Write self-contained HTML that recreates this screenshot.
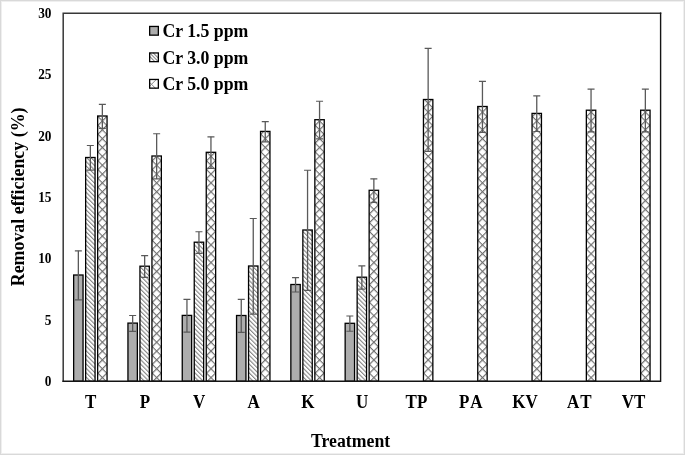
<!DOCTYPE html>
<html><head><meta charset="utf-8"><style>
html,body{margin:0;padding:0;background:#fff;}
body{width:685px;height:455px;overflow:hidden;}
svg{display:block;will-change:transform;}
text{font-family:"Liberation Serif",serif;font-weight:bold;fill:#000;}
</style></head><body>
<svg width="685" height="455" viewBox="0 0 685 455">
<defs>
<pattern id="h0" patternUnits="userSpaceOnUse" width="3.111" height="3.111" patternTransform="translate(90.35 382.15) rotate(-45)"><rect width="3.111" height="3.111" fill="#fff"/><rect x="0" y="0" width="1.1" height="3.111" fill="#858585"/></pattern><pattern id="h1" patternUnits="userSpaceOnUse" width="3.111" height="3.111" patternTransform="translate(144.65 382.15) rotate(-45)"><rect width="3.111" height="3.111" fill="#fff"/><rect x="0" y="0" width="1.1" height="3.111" fill="#858585"/></pattern><pattern id="h2" patternUnits="userSpaceOnUse" width="3.111" height="3.111" patternTransform="translate(198.95 382.15) rotate(-45)"><rect width="3.111" height="3.111" fill="#fff"/><rect x="0" y="0" width="1.1" height="3.111" fill="#858585"/></pattern><pattern id="h3" patternUnits="userSpaceOnUse" width="3.111" height="3.111" patternTransform="translate(253.25 382.15) rotate(-45)"><rect width="3.111" height="3.111" fill="#fff"/><rect x="0" y="0" width="1.1" height="3.111" fill="#858585"/></pattern><pattern id="h4" patternUnits="userSpaceOnUse" width="3.111" height="3.111" patternTransform="translate(307.55 382.15) rotate(-45)"><rect width="3.111" height="3.111" fill="#fff"/><rect x="0" y="0" width="1.1" height="3.111" fill="#858585"/></pattern><pattern id="h5" patternUnits="userSpaceOnUse" width="3.111" height="3.111" patternTransform="translate(361.85 382.15) rotate(-45)"><rect width="3.111" height="3.111" fill="#fff"/><rect x="0" y="0" width="1.1" height="3.111" fill="#858585"/></pattern><pattern id="c0" patternUnits="userSpaceOnUse" width="6.258" height="6.258" patternTransform="translate(102.35 385.65) rotate(45)"><rect width="6.258" height="6.258" fill="#fff"/><path d="M0 0H6.258M0 0V6.258" stroke="#707070" stroke-width="2.4" fill="none"/></pattern><pattern id="c1" patternUnits="userSpaceOnUse" width="6.258" height="6.258" patternTransform="translate(156.65 385.65) rotate(45)"><rect width="6.258" height="6.258" fill="#fff"/><path d="M0 0H6.258M0 0V6.258" stroke="#707070" stroke-width="2.4" fill="none"/></pattern><pattern id="c2" patternUnits="userSpaceOnUse" width="6.258" height="6.258" patternTransform="translate(210.95 385.65) rotate(45)"><rect width="6.258" height="6.258" fill="#fff"/><path d="M0 0H6.258M0 0V6.258" stroke="#707070" stroke-width="2.4" fill="none"/></pattern><pattern id="c3" patternUnits="userSpaceOnUse" width="6.258" height="6.258" patternTransform="translate(265.25 385.65) rotate(45)"><rect width="6.258" height="6.258" fill="#fff"/><path d="M0 0H6.258M0 0V6.258" stroke="#707070" stroke-width="2.4" fill="none"/></pattern><pattern id="c4" patternUnits="userSpaceOnUse" width="6.258" height="6.258" patternTransform="translate(319.55 385.65) rotate(45)"><rect width="6.258" height="6.258" fill="#fff"/><path d="M0 0H6.258M0 0V6.258" stroke="#707070" stroke-width="2.4" fill="none"/></pattern><pattern id="c5" patternUnits="userSpaceOnUse" width="6.258" height="6.258" patternTransform="translate(373.85 385.65) rotate(45)"><rect width="6.258" height="6.258" fill="#fff"/><path d="M0 0H6.258M0 0V6.258" stroke="#707070" stroke-width="2.4" fill="none"/></pattern><pattern id="c6" patternUnits="userSpaceOnUse" width="6.258" height="6.258" patternTransform="translate(428.15 385.65) rotate(45)"><rect width="6.258" height="6.258" fill="#fff"/><path d="M0 0H6.258M0 0V6.258" stroke="#707070" stroke-width="2.4" fill="none"/></pattern><pattern id="c7" patternUnits="userSpaceOnUse" width="6.258" height="6.258" patternTransform="translate(482.45 385.65) rotate(45)"><rect width="6.258" height="6.258" fill="#fff"/><path d="M0 0H6.258M0 0V6.258" stroke="#707070" stroke-width="2.4" fill="none"/></pattern><pattern id="c8" patternUnits="userSpaceOnUse" width="6.258" height="6.258" patternTransform="translate(536.75 385.65) rotate(45)"><rect width="6.258" height="6.258" fill="#fff"/><path d="M0 0H6.258M0 0V6.258" stroke="#707070" stroke-width="2.4" fill="none"/></pattern><pattern id="c9" patternUnits="userSpaceOnUse" width="6.258" height="6.258" patternTransform="translate(591.05 385.65) rotate(45)"><rect width="6.258" height="6.258" fill="#fff"/><path d="M0 0H6.258M0 0V6.258" stroke="#707070" stroke-width="2.4" fill="none"/></pattern><pattern id="c10" patternUnits="userSpaceOnUse" width="6.258" height="6.258" patternTransform="translate(645.35 385.65) rotate(45)"><rect width="6.258" height="6.258" fill="#fff"/><path d="M0 0H6.258M0 0V6.258" stroke="#707070" stroke-width="2.4" fill="none"/></pattern>
<pattern id="hatL" patternUnits="userSpaceOnUse" width="2.6" height="2.6" patternTransform="rotate(-45)">
<rect width="2.6" height="2.6" fill="#fff"/><rect width="1" height="2.6" fill="#777"/></pattern>
<pattern id="crsL" patternUnits="userSpaceOnUse" width="6" height="6" patternTransform="translate(154 0) rotate(45)">
<rect width="6" height="6" fill="#fff"/><rect width="1" height="6" fill="#777"/><rect width="6" height="1" fill="#777"/></pattern>
</defs>
<rect x="0.5" y="0.5" width="684" height="454" fill="none" stroke="#d9d9d9" stroke-width="1"/>
<rect x="1.5" y="1.5" width="682" height="452" fill="none" stroke="#efefef" stroke-width="1"/>
<rect x="73.65" y="275.00" width="9.40" height="106.25" fill="#adadad" stroke="#000" stroke-width="1.3"/><path d="M78.35 250.80V299.80" stroke="#595959" stroke-width="1.3" fill="none"/><path d="M74.85 250.80H81.85M74.85 299.80H81.85" stroke="#595959" stroke-width="1.15" fill="none"/><rect x="127.95" y="323.10" width="9.40" height="58.15" fill="#adadad" stroke="#000" stroke-width="1.3"/><path d="M132.65 315.50V331.30" stroke="#595959" stroke-width="1.3" fill="none"/><path d="M129.15 315.50H136.15M129.15 331.30H136.15" stroke="#595959" stroke-width="1.15" fill="none"/><rect x="182.25" y="315.40" width="9.40" height="65.85" fill="#adadad" stroke="#000" stroke-width="1.3"/><path d="M186.95 299.30V332.10" stroke="#595959" stroke-width="1.3" fill="none"/><path d="M183.45 299.30H190.45M183.45 332.10H190.45" stroke="#595959" stroke-width="1.15" fill="none"/><rect x="236.55" y="315.50" width="9.40" height="65.75" fill="#adadad" stroke="#000" stroke-width="1.3"/><path d="M241.25 299.30V332.30" stroke="#595959" stroke-width="1.3" fill="none"/><path d="M237.75 299.30H244.75M237.75 332.30H244.75" stroke="#595959" stroke-width="1.15" fill="none"/><rect x="290.85" y="284.50" width="9.40" height="96.75" fill="#adadad" stroke="#000" stroke-width="1.3"/><path d="M295.55 277.60V292.00" stroke="#595959" stroke-width="1.3" fill="none"/><path d="M292.05 277.60H299.05M292.05 292.00H299.05" stroke="#595959" stroke-width="1.15" fill="none"/><rect x="345.15" y="323.30" width="9.40" height="57.95" fill="#adadad" stroke="#000" stroke-width="1.3"/><path d="M349.85 316.00V331.20" stroke="#595959" stroke-width="1.3" fill="none"/><path d="M346.35 316.00H353.35M346.35 331.20H353.35" stroke="#595959" stroke-width="1.15" fill="none"/><rect x="85.65" y="157.50" width="9.40" height="223.75" fill="url(#h0)" stroke="#000" stroke-width="1.3"/><path d="M90.35 145.50V170.10" stroke="#595959" stroke-width="1.3" fill="none"/><path d="M86.85 145.50H93.85M86.85 170.10H93.85" stroke="#595959" stroke-width="1.15" fill="none"/><rect x="139.95" y="266.20" width="9.40" height="115.05" fill="url(#h1)" stroke="#000" stroke-width="1.3"/><path d="M144.65 255.60V277.40" stroke="#595959" stroke-width="1.3" fill="none"/><path d="M141.15 255.60H148.15M141.15 277.40H148.15" stroke="#595959" stroke-width="1.15" fill="none"/><rect x="194.25" y="242.20" width="9.40" height="139.05" fill="url(#h2)" stroke="#000" stroke-width="1.3"/><path d="M198.95 231.70V253.30" stroke="#595959" stroke-width="1.3" fill="none"/><path d="M195.45 231.70H202.45M195.45 253.30H202.45" stroke="#595959" stroke-width="1.15" fill="none"/><rect x="248.55" y="266.00" width="9.40" height="115.25" fill="url(#h3)" stroke="#000" stroke-width="1.3"/><path d="M253.25 218.50V314.10" stroke="#595959" stroke-width="1.3" fill="none"/><path d="M249.75 218.50H256.75M249.75 314.10H256.75" stroke="#595959" stroke-width="1.15" fill="none"/><rect x="302.85" y="230.00" width="9.40" height="151.25" fill="url(#h4)" stroke="#000" stroke-width="1.3"/><path d="M307.55 170.20V290.40" stroke="#595959" stroke-width="1.3" fill="none"/><path d="M304.05 170.20H311.05M304.05 290.40H311.05" stroke="#595959" stroke-width="1.15" fill="none"/><rect x="357.15" y="277.20" width="9.40" height="104.05" fill="url(#h5)" stroke="#000" stroke-width="1.3"/><path d="M361.85 265.90V289.10" stroke="#595959" stroke-width="1.3" fill="none"/><path d="M358.35 265.90H365.35M358.35 289.10H365.35" stroke="#595959" stroke-width="1.15" fill="none"/><rect x="97.65" y="116.00" width="9.40" height="265.25" fill="url(#c0)" stroke="#000" stroke-width="1.3"/><path d="M102.35 104.30V128.30" stroke="#595959" stroke-width="1.3" fill="none"/><path d="M98.85 104.30H105.85M98.85 128.30H105.85" stroke="#595959" stroke-width="1.15" fill="none"/><rect x="151.95" y="156.00" width="9.40" height="225.25" fill="url(#c1)" stroke="#000" stroke-width="1.3"/><path d="M156.65 133.70V178.90" stroke="#595959" stroke-width="1.3" fill="none"/><path d="M153.15 133.70H160.15M153.15 178.90H160.15" stroke="#595959" stroke-width="1.15" fill="none"/><rect x="206.25" y="152.30" width="9.40" height="228.95" fill="url(#c2)" stroke="#000" stroke-width="1.3"/><path d="M210.95 136.80V168.40" stroke="#595959" stroke-width="1.3" fill="none"/><path d="M207.45 136.80H214.45M207.45 168.40H214.45" stroke="#595959" stroke-width="1.15" fill="none"/><rect x="260.55" y="131.40" width="9.40" height="249.85" fill="url(#c3)" stroke="#000" stroke-width="1.3"/><path d="M265.25 121.60V141.80" stroke="#595959" stroke-width="1.3" fill="none"/><path d="M261.75 121.60H268.75M261.75 141.80H268.75" stroke="#595959" stroke-width="1.15" fill="none"/><rect x="314.85" y="119.70" width="9.40" height="261.55" fill="url(#c4)" stroke="#000" stroke-width="1.3"/><path d="M319.55 101.20V138.80" stroke="#595959" stroke-width="1.3" fill="none"/><path d="M316.05 101.20H323.05M316.05 138.80H323.05" stroke="#595959" stroke-width="1.15" fill="none"/><rect x="369.15" y="190.30" width="9.40" height="190.95" fill="url(#c5)" stroke="#000" stroke-width="1.3"/><path d="M373.85 178.80V202.40" stroke="#595959" stroke-width="1.3" fill="none"/><path d="M370.35 178.80H377.35M370.35 202.40H377.35" stroke="#595959" stroke-width="1.15" fill="none"/><rect x="423.45" y="99.50" width="9.40" height="281.75" fill="url(#c6)" stroke="#000" stroke-width="1.3"/><path d="M428.15 48.30V151.30" stroke="#595959" stroke-width="1.3" fill="none"/><path d="M424.65 48.30H431.65M424.65 151.30H431.65" stroke="#595959" stroke-width="1.15" fill="none"/><rect x="477.75" y="106.50" width="9.40" height="274.75" fill="url(#c7)" stroke="#000" stroke-width="1.3"/><path d="M482.45 81.30V132.30" stroke="#595959" stroke-width="1.3" fill="none"/><path d="M478.95 81.30H485.95M478.95 132.30H485.95" stroke="#595959" stroke-width="1.15" fill="none"/><rect x="532.05" y="113.40" width="9.40" height="267.85" fill="url(#c8)" stroke="#000" stroke-width="1.3"/><path d="M536.75 95.90V131.50" stroke="#595959" stroke-width="1.3" fill="none"/><path d="M533.25 95.90H540.25M533.25 131.50H540.25" stroke="#595959" stroke-width="1.15" fill="none"/><rect x="586.35" y="110.20" width="9.40" height="271.05" fill="url(#c9)" stroke="#000" stroke-width="1.3"/><path d="M591.05 89.10V131.90" stroke="#595959" stroke-width="1.3" fill="none"/><path d="M587.55 89.10H594.55M587.55 131.90H594.55" stroke="#595959" stroke-width="1.15" fill="none"/><rect x="640.65" y="110.20" width="9.40" height="271.05" fill="url(#c10)" stroke="#000" stroke-width="1.3"/><path d="M645.35 89.10V131.90" stroke="#595959" stroke-width="1.3" fill="none"/><path d="M641.85 89.10H648.85M641.85 131.90H648.85" stroke="#595959" stroke-width="1.15" fill="none"/>
<path d="M63.2 382.05V13.2H661.3" fill="none" stroke="#383838" stroke-width="1.5"/>
<path d="M62.45 381.25H660.6V12.45" fill="none" stroke="#141414" stroke-width="1.4"/>
<text transform="translate(51.5 385.85) scale(1 1.07)" text-anchor="end" style="font-size:13.3px">0</text><text transform="translate(51.5 324.57) scale(1 1.07)" text-anchor="end" style="font-size:13.3px">5</text><text transform="translate(51.5 263.28) scale(1 1.07)" text-anchor="end" style="font-size:13.3px">10</text><text transform="translate(51.5 202.00) scale(1 1.07)" text-anchor="end" style="font-size:13.3px">15</text><text transform="translate(51.5 140.72) scale(1 1.07)" text-anchor="end" style="font-size:13.3px">20</text><text transform="translate(51.5 79.43) scale(1 1.07)" text-anchor="end" style="font-size:13.3px">25</text><text transform="translate(51.5 18.15) scale(1 1.07)" text-anchor="end" style="font-size:13.3px">30</text>
<text transform="translate(90.65 407.8) scale(1 1.08)" text-anchor="middle" style="font-size:17px">T</text><text transform="translate(144.95 407.8) scale(1 1.08)" text-anchor="middle" style="font-size:17px">P</text><text transform="translate(199.25 407.8) scale(1 1.08)" text-anchor="middle" style="font-size:17px">V</text><text transform="translate(253.55 407.8) scale(1 1.08)" text-anchor="middle" style="font-size:17px">A</text><text transform="translate(307.85 407.8) scale(1 1.08)" text-anchor="middle" style="font-size:17px">K</text><text transform="translate(362.15 407.8) scale(1 1.08)" text-anchor="middle" style="font-size:17px">U</text><text transform="translate(416.45 407.8) scale(1 1.08)" text-anchor="middle" style="font-size:17px">TP</text><text transform="translate(470.75 407.8) scale(1 1.08)" text-anchor="middle" style="font-size:17px">P<tspan dx="0.8">A</tspan></text><text transform="translate(525.05 407.8) scale(1 1.08)" text-anchor="middle" style="font-size:17px">KV</text><text transform="translate(579.35 407.8) scale(1 1.08)" text-anchor="middle" style="font-size:17px">A<tspan dx="1.0">T</tspan></text><text transform="translate(633.65 407.8) scale(1 1.08)" text-anchor="middle" style="font-size:17px">VT</text>
<rect x="149.65" y="26.45" width="8.7" height="8.7" fill="#adadad" stroke="#000" stroke-width="1.3"/><text transform="translate(162.4 36.80) scale(1 1.02)" style="font-size:17.75px">Cr 1.5 ppm</text><rect x="149.65" y="52.95" width="8.7" height="8.7" fill="#fff"/><path d="M149.65 52.949999999999996L158.35 61.64999999999999M153.15 52.949999999999996L158.35 58.15M149.65 56.449999999999996L154.85 61.64999999999999" stroke="#8c8c8c" stroke-width="1.1" fill="none"/><rect x="149.65" y="52.95" width="8.7" height="8.7" fill="none" stroke="#000" stroke-width="1.3"/><text transform="translate(162.4 63.60) scale(1 1.02)" style="font-size:17.75px">Cr 3.0 ppm</text><rect x="149.65" y="79.45" width="8.7" height="8.7" fill="#fff"/><path d="M149.5 86.3L155.9 79.89999999999999M149.5 82.3L155.9 88.7" stroke="#8c8c8c" stroke-width="1" fill="none"/><rect x="149.65" y="79.45" width="8.7" height="8.7" fill="none" stroke="#000" stroke-width="1.3"/><text transform="translate(162.4 90.10) scale(1 1.02)" style="font-size:17.75px">Cr 5.0 ppm</text>
<text transform="translate(350.6 447.0) scale(1 1.02)" text-anchor="middle" style="font-size:17.75px">Treatment</text>
<text transform="translate(24.0 196.9) rotate(-90) scale(1 1.02)" text-anchor="middle" style="font-size:17.9px">Removal efficiency (%)</text>
</svg>
</body></html>
